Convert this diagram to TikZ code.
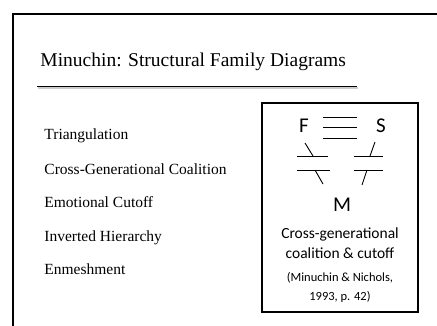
\documentclass[tikz,border=0pt]{standalone}
\usepackage{fontspec}
\setmainfont{Liberation Serif}
\setsansfont{Carlito}
\usetikzlibrary{positioning}

\begin{document}
\begin{tikzpicture}[
	x=1pt,
	y=-1pt,
	line width=0.9pt
]
\tikzset{
    topic/.style = {anchor=base west, inner sep=0pt, font=\fontsize{15.5}{18}\selectfont},
    member/.style = {inner sep=0pt, font=\sffamily\fontsize{21}{24}\selectfont},
    caption/.style = {inner sep=0pt, align=center, font=\sffamily\fontsize{15.5}{20}\selectfont},
    source/.style = {inner sep=0pt, align=center, font=\sffamily\fontsize{12.5}{19}\selectfont},
}
    \useasboundingbox (0,0) rectangle (437,326);

    % slide frame and title
    \draw[line width=1.2pt] (13,326) -- (13,14) -- (437,14);
    \node (title) [anchor=west, inner sep=0pt, font=\fontsize{19.5}{23}\selectfont] at (40,62)
        {Minuchin: Structural Family Diagrams};
    \draw[black!20, line width=2.2pt] (38,88.2) -- (358,88.2);
    \draw[line width=1pt] (37,87) -- (357,87);

    % list of patterns
    \node (tri) [topic] at (44,140) {Triangulation};
    \node (cgc) [topic] at (44,175) {Cross-Generational Coalition};
    \node (emo) [topic] at (44,208) {Emotional Cutoff};
    \node (inv) [topic] at (44,242) {Inverted Hierarchy};
    \node (enm) [topic] at (44,275) {Enmeshment};

    % diagram box
    \draw[line width=1.3pt] (262,103) rectangle (418,312);
    \node (F) [member] at (304,126) {F};
    \node (S) [member] at (381,126) {S};
    \node (M) [member] at (342,205) {M};
    \draw (323,117) -- (357,117);
    \draw (323,127) -- (357,127);
    \draw (323,138) -- (357,138);
    % cutoff between F and M
    \draw (297,156) -- (328,156);
    \draw (305,143) -- (313,156);
    \draw (297,170) -- (330,170);
    \draw (315,170) -- (323,184);
    % cutoff between S and M
    \draw (354,156) -- (383,156);
    \draw (375,142) -- (370,156);
    \draw (354,170) -- (383,170);
    \draw (367,170) -- (362,185);

    \node (cap) [caption] at (340,243) {Cross-generational\\coalition \& cutoff};
    \node (ref) [source] at (340,287) {(Minuchin \& Nichols,\\1993, p. 42)};
\end{tikzpicture}
\end{document}
